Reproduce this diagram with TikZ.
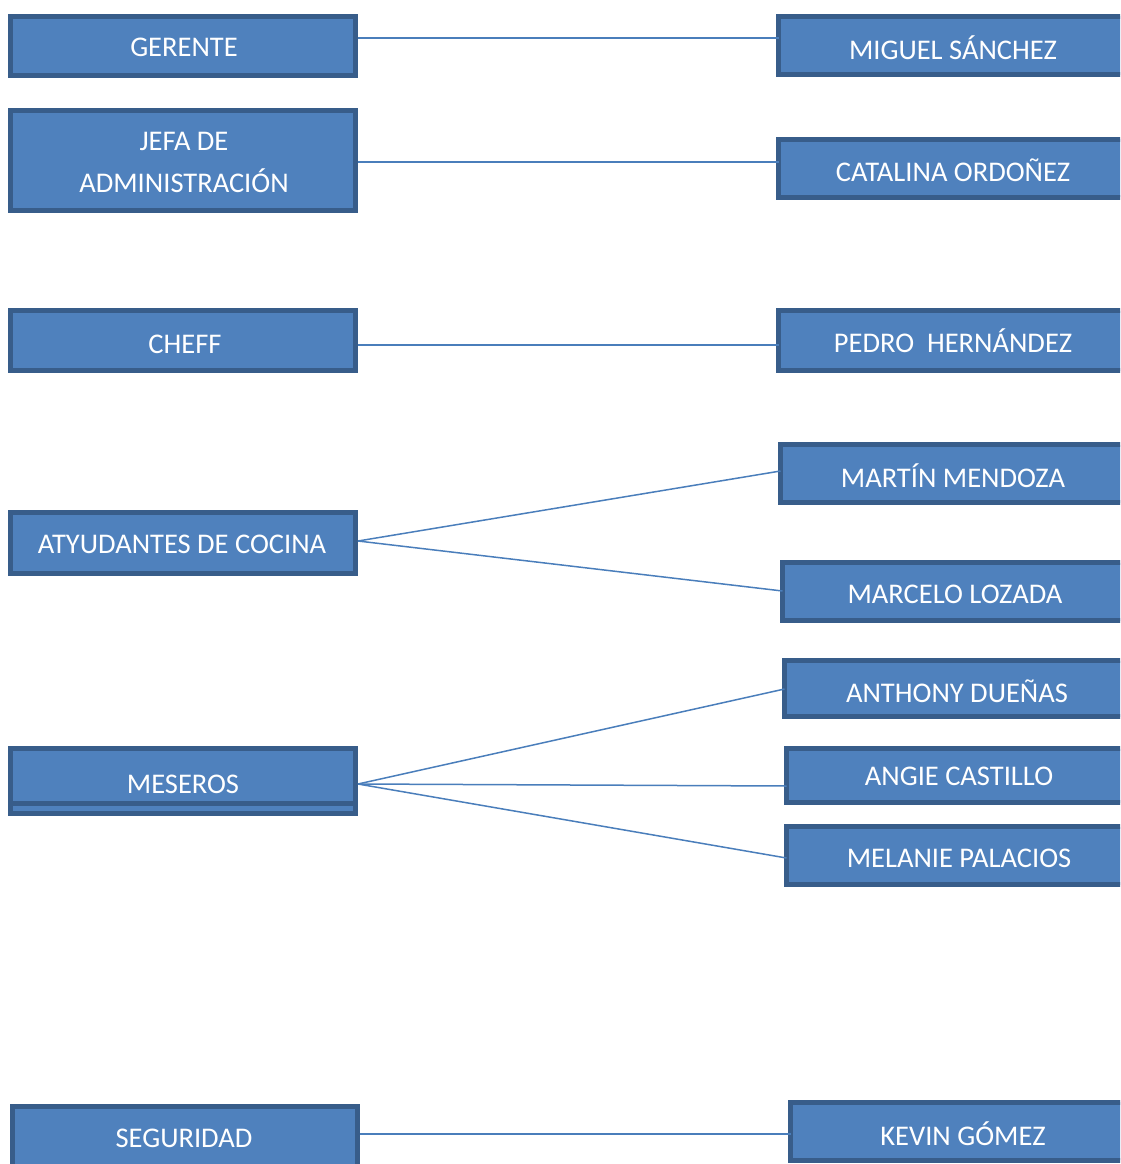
\documentclass[tikz,border=0pt]{standalone}
\usepackage{fontspec}
\setmainfont{Carlito}
\definecolor{boxfill}{HTML}{4F81BD}
\definecolor{boxline}{HTML}{385D8A}
\definecolor{conn}{HTML}{4A7EBB}
\newcommand\rbord[1]{\draw[boxline,line width=5pt,line cap=rect] (#1.north east) -- (#1.north west) -- (#1.south west) -- (#1.south east);}
\begin{document}
\begin{tikzpicture}[x=1pt,y=-1pt,
  box/.style={draw=boxline,fill=boxfill,line width=5pt,inner sep=0pt},
  rbox/.style={fill=boxfill,inner sep=0pt,outer sep=0pt,anchor=west,minimum width=420pt},
  txt/.style={text=white,font=\fontsize{28.5}{42}\selectfont,inner sep=0pt,align=center},
  link/.style={draw=conn,line width=1.5pt}]
\useasboundingbox (0,0) rectangle (1120,1164);
\clip (0,0) rectangle (1120,1164);
% left column
\node[box,minimum width=345pt,minimum height=59pt] (ger) at (183,46) {};
\node[txt] (tger) at (184,47.5) {GERENTE};
\node[box,minimum width=345pt,minimum height=100pt] (jefa) at (183,160.5) {};
\node[txt] (tjefa) at (184,162) {JEFA DE\\ADMINISTRACIÓN};
\node[box,minimum width=345pt,minimum height=60pt] (chef) at (183,340.5) {};
\node[txt] (tchef) at (185,344.5) {CHEFF};
\node[box,minimum width=345pt,minimum height=61pt] (ayu) at (183,543) {};
\node[txt] (tayu) at (182,544.5) {ATYUDANTES DE COCINA};
\node[box,minimum width=345pt,minimum height=65pt] (mes) at (183,781) {};
\draw[boxline,line width=5pt] (mes.south west) ++(0,-13) coordinate (ml) -- (mes.south east |- ml);
\node[txt] (tmes) at (183,784.5) {MESEROS};
\node[box,minimum width=345pt,minimum height=62pt] (seg) at (185,1137) {};
\node[txt] (tseg) at (184,1138.5) {SEGURIDAD};
% right column
\node[rbox,minimum height=58pt] (miguel) at (778.5,45.5) {};
\rbord{miguel}
\node[txt] (tmiguel) at (953,47.5) {MIGUEL SÁNCHEZ};
\node[rbox,minimum height=58pt] (cata) at (778.5,168) {};
\rbord{cata}
\node[txt] (tcata) at (953,170) {CATALINA ORDOÑEZ};
\node[rbox,minimum height=60pt] (pedro) at (778.5,340.5) {};
\rbord{pedro}
\node[txt] (tpedro) at (953,340.5) {PEDRO\ \ HERNÁNDEZ};
\node[rbox,minimum height=58pt] (martin) at (780.5,473.5) {};
\rbord{martin}
\node[txt] (tmartin) at (953,476) {MARTÍN MENDOZA};
\node[rbox,minimum height=58pt] (marcelo) at (782.5,591.5) {};
\rbord{marcelo}
\node[txt] (tmarcelo) at (955,594) {MARCELO LOZADA};
\node[rbox,minimum height=56pt] (anthony) at (784.5,688.5) {};
\rbord{anthony}
\node[txt] (tanthony) at (957,691.5) {ANTHONY DUEÑAS};
\node[rbox,minimum height=54pt] (angie) at (786.5,775.5) {};
\rbord{angie}
\node[txt] (tangie) at (959,776) {ANGIE CASTILLO};
\node[rbox,minimum height=58pt] (melanie) at (786.5,855.5) {};
\rbord{melanie}
\node[txt] (tmelanie) at (959,858) {MELANIE PALACIOS};
\node[rbox,minimum height=58pt] (kevin) at (790.5,1131) {};
\rbord{kevin}
\node[txt] (tkevin) at (963,1134) {KEVIN GÓMEZ};
% connectors
\draw[link] (ger.east |- 0,38) -- (miguel.west |- 0,38);
\draw[link] (jefa.east |- 0,162) -- (cata.west |- 0,162);
\draw[link] (chef.east |- 0,345) -- (pedro.west |- 0,345);
\coordinate (ayuE) at (ayu.east |- 0,541);
\draw[link] (ayuE) -- (martin.west |- 0,471);
\draw[link] (ayuE) -- (marcelo.west |- 0,591);
\coordinate (mesE) at (mes.east |- 0,784);
\draw[link] (mesE) -- (anthony.west |- 0,689);
\draw[link] (mesE) -- (angie.west |- 0,786);
\draw[link] (mesE) -- (melanie.west |- 0,858);
\draw[link] (seg.east |- 0,1134) -- (kevin.west |- 0,1134);
\end{tikzpicture}
\end{document}
